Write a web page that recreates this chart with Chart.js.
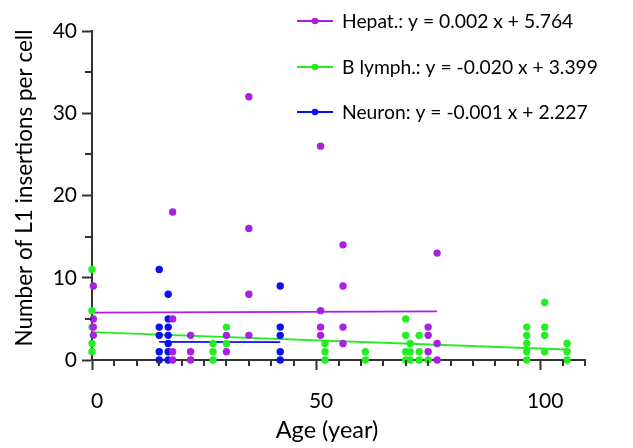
<!DOCTYPE html>
<html><head><meta charset="utf-8">
<script src="https://cdn.jsdelivr.net/npm/chart.js@4/dist/chart.umd.min.js"></script>
<style>html,body{margin:0;padding:0;background:#fff;}#wrap{width:633px;height:448px;position:relative;}</style>
</head><body><div id="wrap"><canvas id="c" width="633" height="448"></canvas></div>
<script>
// ---- data ----
const hepatAge = [0.3,0.3,0.3,0.3, 18,18,18,18, 22,22,22, 30,30, 35,35,35,35, 51,51,51,51, 56,56,56,56, 75,75,75, 77,77,77];
const hepatL1  = [9,5,4,3,        18,5,1,0,    3,1,0,    3,1,   32,16,8,3,   26,6,4,3,    14,9,4,2,    4,3,1,    13,2,0];
const blymphAge = [0,0,0,0,0, 27,27,27, 30,30, 52,52,52, 61,61, 70,70,70,70, 71,71,71, 73,73,73, 75, 97,97,97,97,97, 101,101,101,101, 106,106,106];
const blymphL1  = [11,6,4,2,1, 2,1,0,   4,2,   2,1,0,    1,0,   5,3,1,0,     2,1,0,    3,1,0,    0,  4,3,2,1,0,      7,4,3,1,         2,1,0];
const neuronAge = [15,15,15,15,15, 17,17,17,17,17,17,17, 42,42,42,42,42];
const neuronL1  = [11,4,3,1,0,     8,5,4,3,2,1,0,        9,4,3,1,0];
// regression coefficients [slope, intercept]
const hepatFit  = [0.002, 5.764];
const blymphFit = [-0.020, 3.399];
const neuronFit = [-0.001, 2.227];
const seriesLabels = ['Hepat.: y = 0.002 x + 5.764', 'B lymph.: y = -0.020 x + 3.399', 'Neuron: y = -0.001 x + 2.227'];
const xTickLabels = [0, 50, 100];
const yTickLabels = [0, 10, 20, 30, 40];
const xTitle = 'Age (year)';
const yTitle = 'Number of L1 insertions per cell';

const COLORS = ['#A91FE3', '#22EE22', '#0A10F0'];
const AXIS = '#333333';
const FONT = 'Lato';

function pts(xs, ys){ return xs.map((v,i)=>({x:v, y:ys[i]})); }
function fit(xs, coef){ const a=Math.min(...xs), b=Math.max(...xs); return [{x:a,y:coef[0]*a+coef[1]},{x:b,y:coef[0]*b+coef[1]}]; }

const scatterBase = {type:'scatter', pointRadius:3.7, pointHoverRadius:3.7, borderWidth:0, pointBorderWidth:0, clip:false, showLine:false};
const lineBase = {type:'line', pointRadius:0, borderWidth:1.8, fill:false, clip:false, showLine:true, tension:0};

const datasets = [
  {...scatterBase, label:seriesLabels[0], data:pts(hepatAge,hepatL1), backgroundColor:COLORS[0], borderColor:COLORS[0]},
  {...scatterBase, label:seriesLabels[2], data:pts(neuronAge,neuronL1), backgroundColor:COLORS[2], borderColor:COLORS[2]},
  {...scatterBase, label:seriesLabels[1], data:pts(blymphAge,blymphL1), backgroundColor:COLORS[1], borderColor:COLORS[1]},
  {...lineBase, label:'hfit', data:fit(hepatAge,hepatFit), borderColor:COLORS[0]},
  {...lineBase, label:'nfit', data:fit(neuronAge,neuronFit), borderColor:COLORS[2]},
  {...lineBase, label:'bfit', data:fit(blymphAge,blymphFit), borderColor:COLORS[1]},
];

const extras = {
  id:'extras',
  afterDraw(chart){
    const {ctx, scales:{x, y}} = chart;
    ctx.save();
    ctx.strokeStyle = AXIS; ctx.lineWidth = 2;
    for (let v = 5; v < 110.01; v += 5) {
      if (xTickLabels.includes(v)) continue;
      const px = Math.round(x.getPixelForValue(v));
      ctx.beginPath(); ctx.moveTo(px, y.bottom); ctx.lineTo(px, y.bottom + 6); ctx.stroke();
    }
    for (let v = 5; v < 40; v += 10) {
      const py = Math.round(y.getPixelForValue(v));
      ctx.beginPath(); ctx.moveTo(x.left, py); ctx.lineTo(x.left - 7, py); ctx.stroke();
    }
    // axis titles
    ctx.fillStyle = '#000'; ctx.textBaseline = 'middle'; ctx.textAlign = 'center';
    ctx.font = '23.5px ' + FONT;
    ctx.fillText(xTitle, 327, 430);
    ctx.save();
    ctx.translate(25, 188); ctx.rotate(-Math.PI/2);
    ctx.font = '22.5px ' + FONT;
    ctx.fillText(yTitle, 0, 0);
    ctx.restore();
    // legend
    const rowY = [21, 67, 112];
    ctx.font = '19.3px ' + FONT; ctx.textBaseline = 'middle'; ctx.textAlign = 'left';
    [0, 1, 2].forEach((k, i) => {
      const yy = rowY[i];
      ctx.strokeStyle = COLORS[k]; ctx.lineWidth = 1.8;
      ctx.beginPath(); ctx.moveTo(297, yy); ctx.lineTo(333, yy); ctx.stroke();
      ctx.fillStyle = COLORS[k];
      ctx.beginPath(); ctx.arc(315, yy, 3.3, 0, Math.PI*2); ctx.fill();
      ctx.fillStyle = '#000';
      ctx.fillText(seriesLabels[k], 342, yy + 1);
    });
    ctx.restore();
  }
};

new Chart(document.getElementById('c'), {
  type:'scatter',
  data:{datasets},
  options:{
    responsive:false, animation:false,
    layout:{padding:{top:31, right:48, bottom:0, left:0}},
    plugins:{legend:{display:false}, tooltip:{enabled:false}},
    scales:{
      x:{type:'linear', min:0, max:110,
        afterBuildTicks(s){ s.ticks = xTickLabels.map(v=>({value:v})); },
        afterFit(s){ s.height = 88; },
        border:{color:AXIS, width:2},
        grid:{display:true, drawOnChartArea:false, drawTicks:true, tickLength:10, tickColor:AXIS, tickWidth:2},
        ticks:{color:'#000', font:{family:FONT, size:21}, padding:19, labelOffset:5, maxRotation:0, autoSkip:false},
        title:{display:false}
      },
      y:{type:'linear', min:0, max:40,
        afterBuildTicks(s){ s.ticks = yTickLabels.map(v=>({value:v})); },
        afterFit(s){ s.width = 92; },
        border:{color:AXIS, width:2},
        grid:{display:true, drawOnChartArea:false, drawTicks:true, tickLength:10, tickColor:AXIS, tickWidth:2},
        ticks:{color:'#000', font:{family:FONT, size:21}, padding:5, autoSkip:false},
        title:{display:false}
      }
    }
  },
  plugins:[extras]
});
</script></body></html>
